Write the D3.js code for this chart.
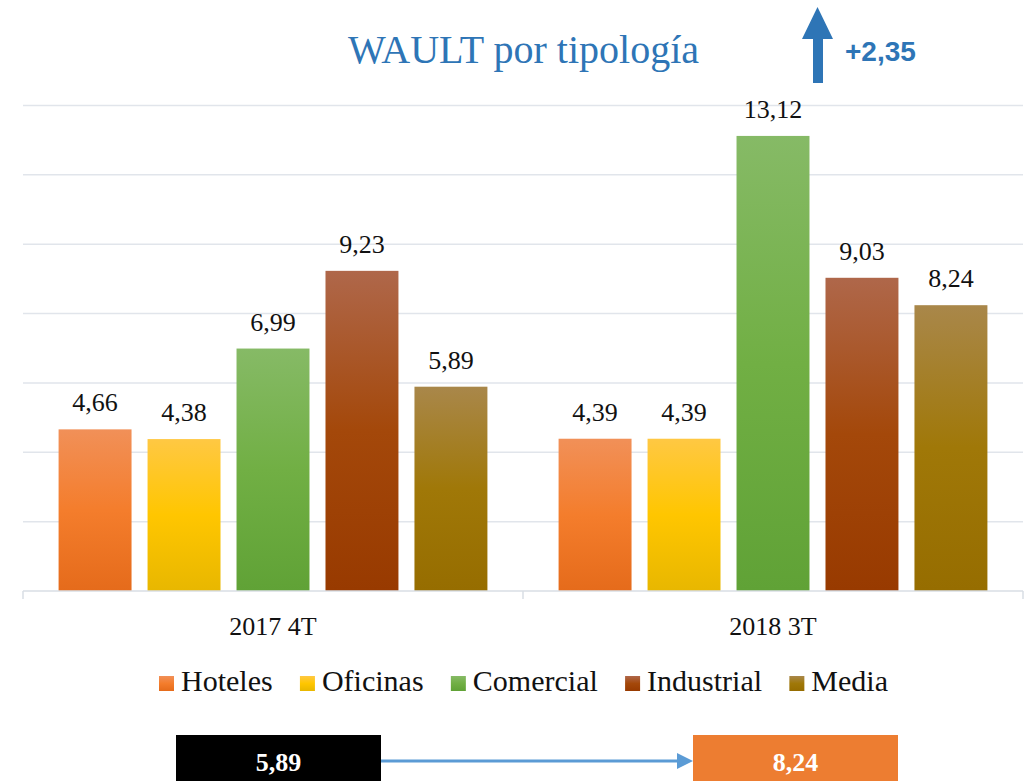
<!DOCTYPE html>
<html>
<head>
<meta charset="utf-8">
<script src="https://cdn.jsdelivr.net/npm/d3@7"></script>
<style>
  html, body { margin: 0; padding: 0; background: #fff; }
  svg { display: block; }
</style>
</head>
<body>
<svg id="chart" width="1027" height="781"></svg>
<script>
// ---- data ----
const groups = ["2017 4T", "2018 3T"];
const series = ["Hoteles", "Oficinas", "Comercial", "Industrial", "Media"];
const hoteles    = [4.66, 4.39];
const oficinas   = [4.38, 4.39];
const comercial  = [6.99, 13.12];
const industrial = [9.23, 9.03];
const media      = [5.89, 8.24];
const yTicks = [0, 2, 4, 6, 8, 10, 12, 14];
const titleText = "WAULT por tipología";
const deltaText = "+2,35";
const mediaStart = "5,89";
const mediaEnd = "8,24";

const values = { Hoteles: hoteles, Oficinas: oficinas, Comercial: comercial, Industrial: industrial, Media: media };

// gradient stops per series (top, middle, bottom)
const gradColors = {
  Hoteles:    ["#F19058", "#F47D2C", "#E56B1B"],
  Oficinas:   ["#FFC843", "#FFC600", "#E8B700"],
  Comercial:  ["#86BA66", "#71AF44", "#60A236"],
  Industrial: ["#AF674A", "#A4480A", "#983A00"],
  Media:      ["#A9874A", "#A07808", "#966D00"]
};

const svg = d3.select("#chart");
const serif = "'Liberation Serif', 'Times New Roman', serif";

// gradients
const defs = svg.append("defs");
series.forEach((s, i) => {
  const g = defs.append("linearGradient")
    .attr("id", "grad" + i)
    .attr("x1", 0).attr("y1", 0).attr("x2", 0).attr("y2", 1);
  g.append("stop").attr("offset", "0%").attr("stop-color", gradColors[s][0]);
  g.append("stop").attr("offset", "50%").attr("stop-color", gradColors[s][1]);
  g.append("stop").attr("offset", "100%").attr("stop-color", gradColors[s][2]);
});

// scales
const x0 = d3.scaleBand().domain(groups).range([23, 1023]).padding(0);
const x1 = d3.scaleBand().domain(series).range([0, x0.bandwidth()])
  .paddingInner(0.18).paddingOuter(0.4);
const y = d3.scaleLinear().domain([0, 14]).range([591, 105.4]);

// gridlines
svg.append("g").selectAll("line")
  .data(yTicks.filter(d => d > 0))
  .join("line")
  .attr("x1", 23).attr("x2", 1023)
  .attr("y1", d => y(d)).attr("y2", d => y(d))
  .attr("stroke", "#E1E5EB").attr("stroke-width", 1.5);

// bars
const gGroups = svg.append("g").selectAll("g")
  .data(groups)
  .join("g")
  .attr("transform", d => `translate(${x0(d)},0)`);

gGroups.selectAll("rect")
  .data((g, gi) => series.map((s, si) => ({ s, si, v: values[s][gi] })))
  .join("rect")
  .attr("x", d => x1(d.s))
  .attr("y", d => y(d.v))
  .attr("width", x1.bandwidth())
  .attr("height", d => y(0) - y(d.v))
  .attr("fill", d => `url(#grad${d.si})`);

gGroups.selectAll("text")
  .data((g, gi) => series.map((s, si) => ({ s, si, v: values[s][gi] })))
  .join("text")
  .attr("x", d => x1(d.s) + x1.bandwidth() / 2)
  .attr("y", d => y(d.v) - 18)
  .attr("text-anchor", "middle")
  .attr("font-family", serif)
  .attr("font-size", 26)
  .attr("fill", "#111")
  .text(d => d.v.toFixed(2).replace(".", ","));

// x axis
const xAxis = svg.append("g");
xAxis.append("line")
  .attr("x1", 23).attr("x2", 1023).attr("y1", y(0)).attr("y2", y(0))
  .attr("stroke", "#D9DEE5").attr("stroke-width", 1.5);
const tickXs = groups.map(g => x0(g)).concat([x0(groups[groups.length - 1]) + x0.bandwidth()]);
xAxis.selectAll("line.tick")
  .data(tickXs)
  .join("line")
  .attr("class", "tick")
  .attr("x1", d => d).attr("x2", d => d)
  .attr("y1", y(0)).attr("y2", y(0) + 8)
  .attr("stroke", "#D9DEE5").attr("stroke-width", 1.5);
xAxis.selectAll("text")
  .data(groups)
  .join("text")
  .attr("x", d => x0(d) + x0.bandwidth() / 2)
  .attr("y", 635)
  .attr("text-anchor", "middle")
  .attr("font-family", serif)
  .attr("font-size", 26)
  .attr("fill", "#111")
  .text(d => d);

// legend
const legend = svg.append("g");
const items = legend.selectAll("g").data(series).join("g");
items.append("rect")
  .attr("width", 15).attr("height", 15)
  .attr("y", 676)
  .attr("fill", (d, i) => `url(#grad${i})`);
items.append("text")
  .attr("x", 22)
  .attr("y", 691)
  .attr("font-family", serif)
  .attr("font-size", 30)
  .attr("fill", "#111")
  .text(d => d);
const widths = [];
items.each(function() { widths.push(d3.select(this).select("text").node().getComputedTextLength() + 22); });
const legLeft = 159, legRight = 888;
const gap = (legRight - legLeft - d3.sum(widths)) / (widths.length - 1);
let cx = legLeft;
items.attr("transform", (d, i) => { const t = `translate(${cx},0)`; cx += widths[i] + gap; return t; });

// title
svg.append("text")
  .attr("x", 523.5).attr("y", 63)
  .attr("text-anchor", "middle")
  .attr("font-family", serif)
  .attr("font-size", 40)
  .attr("fill", "#2E75B6")
  .text(titleText);

// up arrow
svg.append("path")
  .attr("d", "M802,39 L817.5,7 L833,39 L823,39 L823,83 L813,83 L813,39 Z")
  .attr("fill", "#2E75B6");
svg.append("text")
  .attr("x", 845).attr("y", 61)
  .attr("font-family", "'Liberation Sans', Arial, sans-serif")
  .attr("font-weight", "bold")
  .attr("font-size", 28)
  .attr("fill", "#2E75B6")
  .text(deltaText);

// bottom boxes
svg.append("rect").attr("x", 176).attr("y", 735).attr("width", 205).attr("height", 46).attr("fill", "#000");
svg.append("text")
  .attr("x", 278.5).attr("y", 771)
  .attr("text-anchor", "middle")
  .attr("font-family", serif).attr("font-weight", "bold").attr("font-size", 26)
  .attr("fill", "#fff").text(mediaStart);

svg.append("rect").attr("x", 693).attr("y", 735).attr("width", 205).attr("height", 46).attr("fill", "#ED7D31");
svg.append("text")
  .attr("x", 795.5).attr("y", 771)
  .attr("text-anchor", "middle")
  .attr("font-family", serif).attr("font-weight", "bold").attr("font-size", 26)
  .attr("fill", "#fff").text(mediaEnd);

// connector arrow
svg.append("line")
  .attr("x1", 381).attr("x2", 679).attr("y1", 761).attr("y2", 761)
  .attr("stroke", "#5B9BD5").attr("stroke-width", 3);
svg.append("path")
  .attr("d", "M677,753 L693,761 L677,769 Z")
  .attr("fill", "#5B9BD5");
</script>
</body>
</html>
